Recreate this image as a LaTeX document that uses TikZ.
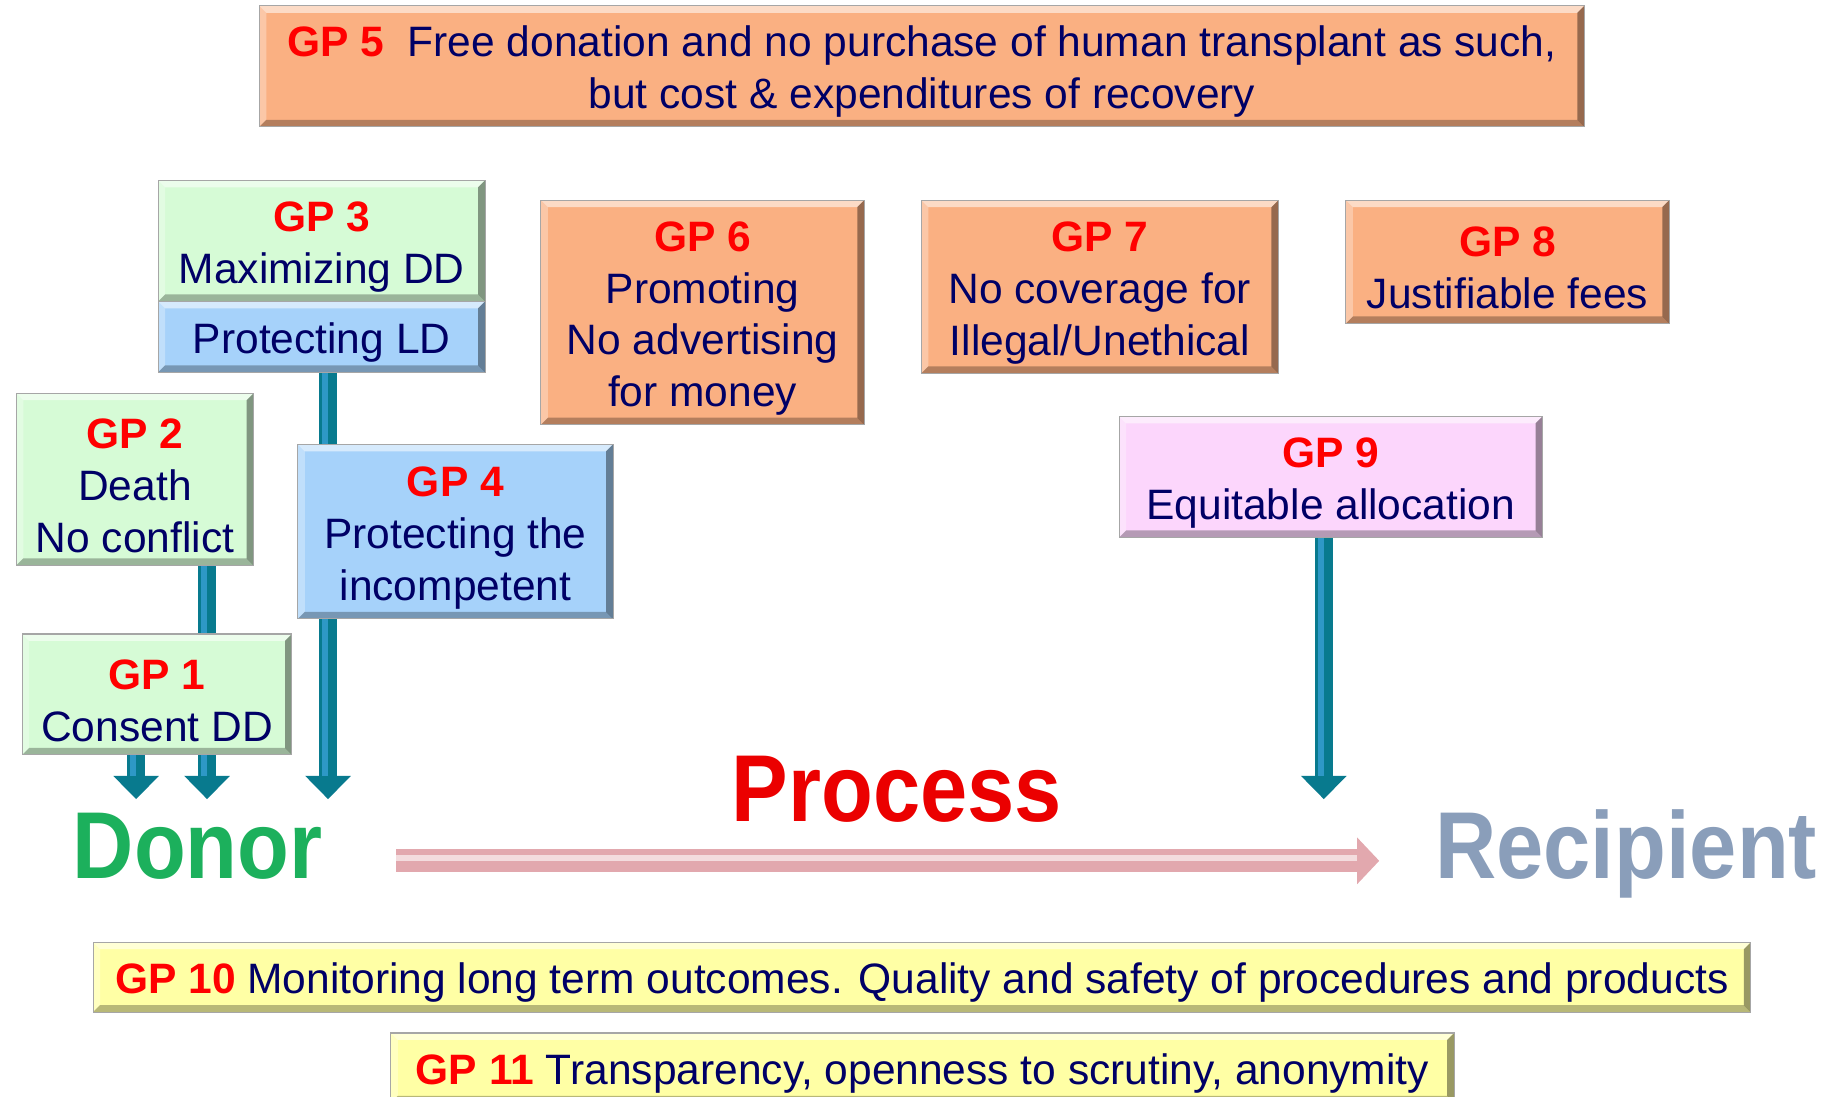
\documentclass[tikz,border=0pt]{standalone}
\usepackage{fontspec}
\setmainfont{Liberation Sans}
\usetikzlibrary{arrows.meta,backgrounds}

\definecolor{gpred}{RGB}{255,0,0}
\definecolor{navy}{RGB}{0,0,102}
\definecolor{greenfill}{RGB}{214,251,214}
\definecolor{bluefill}{RGB}{166,210,250}
\definecolor{orangefill}{RGB}{250,176,130}
\definecolor{pinkfill}{RGB}{252,214,252}
\definecolor{yellowfill}{RGB}{255,255,165}
\definecolor{tealarrow}{RGB}{8,122,142}
\definecolor{procpink}{RGB}{226,168,174}
\definecolor{donorgreen}{RGB}{28,176,92}
\definecolor{recipgray}{RGB}{138,158,186}

% red label, with room above it
\newcommand{\gpno}[1]{\rule{0pt}{20.6pt}{\color{gpred}\textbf{GP #1}}}

\tikzset{
  bevel/.style={path picture={
    \path (path picture bounding box.north west) coordinate (bnw)
          (path picture bounding box.north east) coordinate (bne)
          (path picture bounding box.south west) coordinate (bsw)
          (path picture bounding box.south east) coordinate (bse);
    \fill[white,opacity=.55] (bnw) -- (bne) -- ([shift={(-1.2mm,-1.2mm)}]bne) -- ([shift={(1.2mm,-1.2mm)}]bnw) -- cycle;
    \fill[white,opacity=.3] (bnw) -- (bsw) -- ([shift={(1.2mm,1.2mm)}]bsw) -- ([shift={(1.2mm,-1.2mm)}]bnw) -- cycle;
    \fill[black,opacity=.28] (bsw) -- (bse) -- ([shift={(-1.2mm,1.2mm)}]bse) -- ([shift={(1.2mm,1.2mm)}]bsw) -- cycle;
    \fill[black,opacity=.4] (bne) -- (bse) -- ([shift={(-1.2mm,1.2mm)}]bse) -- ([shift={(-1.2mm,-1.2mm)}]bne) -- cycle;
  }},
  boxsize/.style 2 args={minimum width=#1*0.2mm, minimum height=#2*0.2mm},
  gpbox/.style={draw=black!35, line width=0.5pt, bevel, inner sep=0pt, align=center,
    text=navy, font=\fontsize{20.8}{25.4}\selectfont},
  greenbox/.style={gpbox, fill=greenfill},
  bluebox/.style={gpbox, fill=bluefill},
  orangebox/.style={gpbox, fill=orangefill},
  pinkbox/.style={gpbox, fill=pinkfill},
  yellowbox/.style={gpbox, fill=yellowfill},
  gparrow/.style={draw=tealarrow, line width=3.2mm, -{Triangle[width=7.6mm,length=4mm]},
    postaction={draw=cyan!55!tealarrow, line width=1mm, shorten >=4mm, -,
      transform canvas={xshift=-0.5mm}}},
  procarrow/.style={draw=procpink, line width=4mm, -{Triangle[width=7.8mm,length=3.8mm]},
    postaction={draw=white, opacity=.6, line width=0.9mm, shorten >=3.8mm, -,
      transform canvas={yshift=0.5mm}}},
  bigword/.style={anchor=base, yscale=1.12, font=\fontsize{41.5}{45}\selectfont\bfseries},
}

\begin{document}
\begin{tikzpicture}[x=0.2mm,y=-0.2mm]
        \useasboundingbox (0,0) rectangle (1568,943);

        % top band
        \node[orangebox, boxsize={1139}{104}] (gp5) at (792.5,57)
            {\gpno{5}\ \ Free donation and no purchase of human transplant as such,\\but cost \& expenditures of recovery};

        % donor side
        \node[greenbox, boxsize={281}{104}] (gp3) at (276.5,207) {\gpno{3}\\Maximizing DD};
        \node[bluebox, boxsize={281}{61}] (ld) at (276.5,289.5) {\rule{0pt}{20.6pt}Protecting LD};
        \node[greenbox, boxsize={204}{148}] (gp2) at (116,412) {\gpno{2}\\Death\\No conflict};
        \node[bluebox, boxsize={271}{150}] (gp4) at (391.5,457) {\gpno{4}\\Protecting the\\incompetent};
        \node[greenbox, boxsize={232}{104}] (gp1) at (135,597) {\gpno{1}\\Consent DD};

        % money
        \node[orangebox, boxsize={278}{193}] (gp6) at (604,268.5) {\gpno{6}\\Promoting\\No advertising\\for money};
        \node[orangebox, boxsize={307}{149}] (gp7) at (945.5,246.5) {\gpno{7}\\No coverage for\\Illegal/Unethical};
        \node[orangebox, boxsize={278}{106}] (gp8) at (1296,225) {\gpno{8}\\Justifiable fees};

        % recipient side
        \node[pinkbox, boxsize={364}{104}] (gp9) at (1144,410) {\gpno{9}\\Equitable allocation};

        % words
        \node[bigword, text=donorgreen] (donor) at (170,755) {Donor};
        \node[bigword, text=red!92!black] (process) at (771,706) {Process};
        \node[bigword, text=recipgray] (recipient) at (1398,755) {Recipient};

        % bottom bands
        \node[yellowbox, boxsize={1425}{60}] (gp10) at (792.5,840)
            {\gpno{10} Monitoring long term outcomes. Quality and safety of procedures and products};
        \node[yellowbox, boxsize={914}{60}] (gp11) at (793,918)
            {\gpno{11} Transparency, openness to scrutiny, anonymity};

        % arrow tips above the words
        \coordinate (tip1) at (117,687);
        \coordinate (tip2) at (178,687);
        \coordinate (tip3) at (282,687);
        \coordinate (tip9) at (1138,687);

        \begin{scope}[on background layer]
            \draw[gparrow] (gp1.south -| tip1) -- (tip1);
            \draw[gparrow] (gp2.south -| tip2) -- (tip2);
            \draw[gparrow] (ld.south -| tip3) -- (tip3);
            \draw[gparrow] (gp9.south -| tip9) -- (tip9);
        \end{scope}

        % donor -> recipient
        \draw[procarrow] ([xshift=11.4mm,yshift=3mm]donor.base east) -- ([xshift=-8.4mm,yshift=3mm]recipient.base west);
    \end{tikzpicture}
\end{document}
